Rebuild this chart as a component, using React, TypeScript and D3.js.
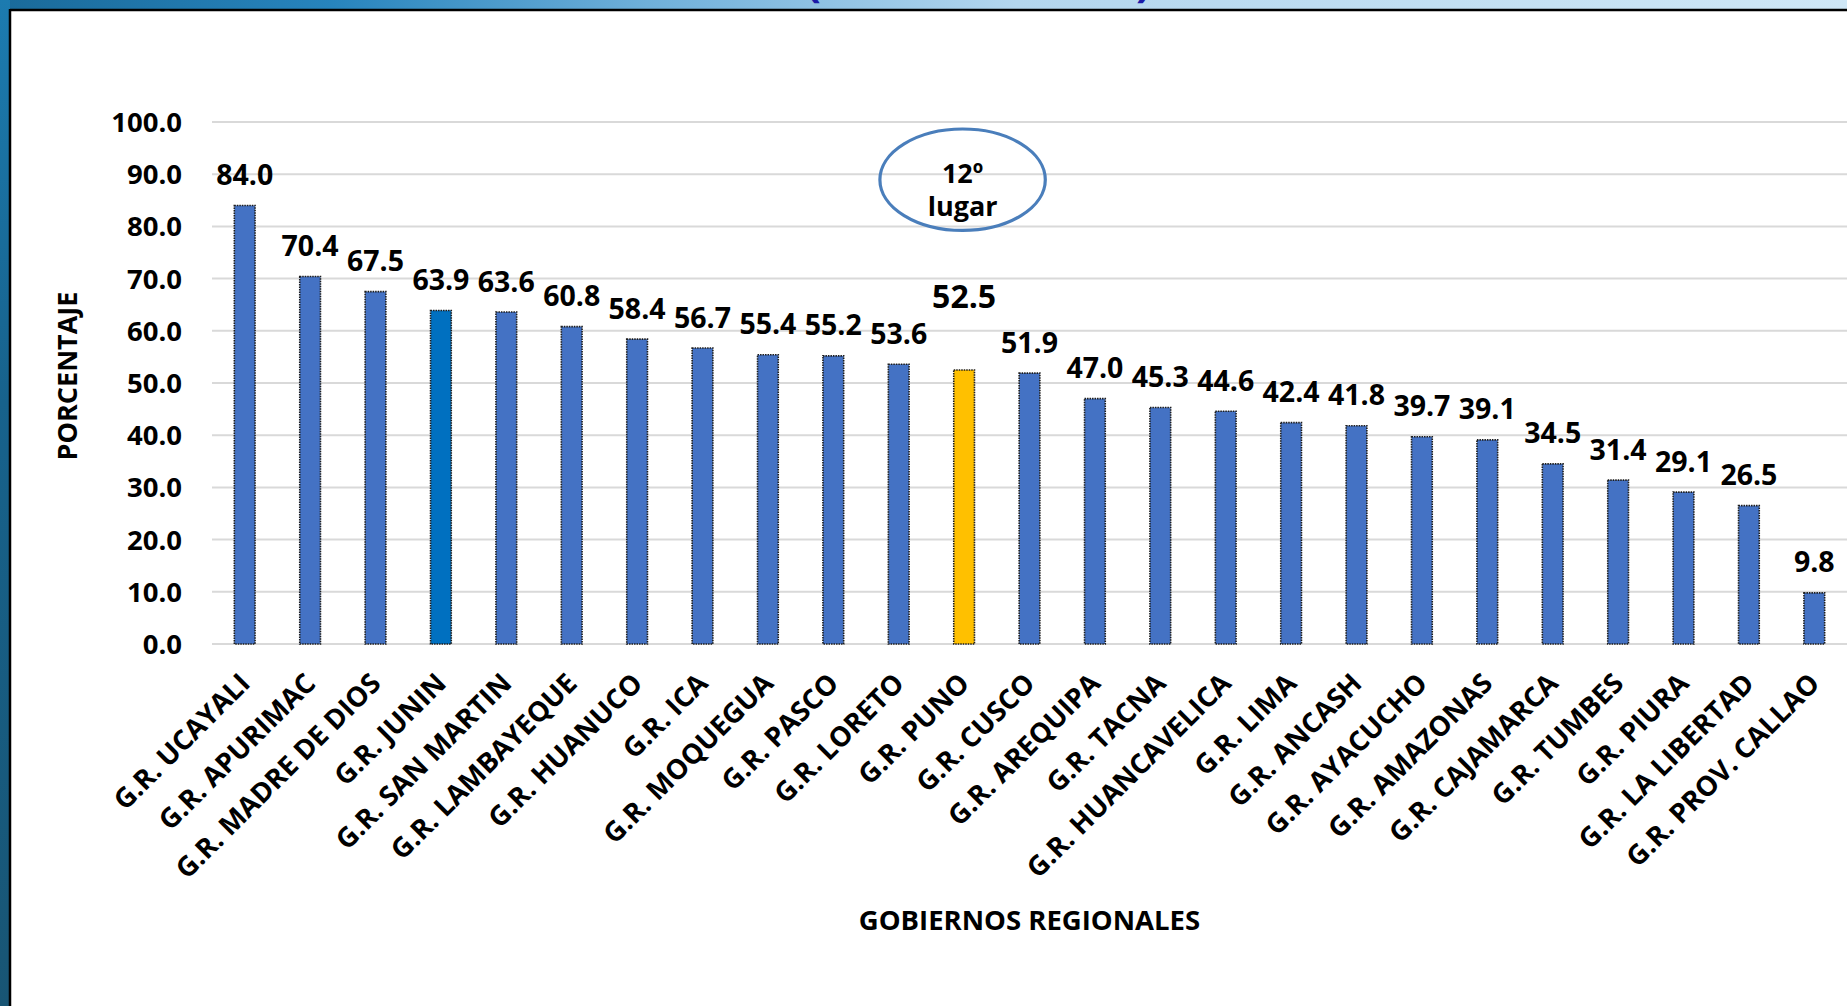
import React, { useRef, useLayoutEffect } from 'react'
import { select, scaleBand, scaleLinear } from 'd3'

const categories = [
  'G.R. UCAYALI', 'G.R. APURIMAC', 'G.R. MADRE DE DIOS', 'G.R. JUNIN', 'G.R. SAN MARTIN',
  'G.R. LAMBAYEQUE', 'G.R. HUANUCO', 'G.R. ICA', 'G.R. MOQUEGUA', 'G.R. PASCO',
  'G.R. LORETO', 'G.R. PUNO', 'G.R. CUSCO', 'G.R. AREQUIPA', 'G.R. TACNA',
  'G.R. HUANCAVELICA', 'G.R. LIMA', 'G.R. ANCASH', 'G.R. AYACUCHO', 'G.R. AMAZONAS',
  'G.R. CAJAMARCA', 'G.R. TUMBES', 'G.R. PIURA', 'G.R. LA LIBERTAD', 'G.R. PROV. CALLAO'
]
const values = [
  84.0, 70.4, 67.5, 63.9, 63.6, 60.8, 58.4, 56.7, 55.4, 55.2, 53.6, 52.5, 51.9,
  47.0, 45.3, 44.6, 42.4, 41.8, 39.7, 39.1, 34.5, 31.4, 29.1, 26.5, 9.8
]
const yTicks = [0, 10, 20, 30, 40, 50, 60, 70, 80, 90, 100]
const highlight = 'G.R. PUNO'
const junin = 'G.R. JUNIN'
const badgeLines = ['12º', 'lugar']

const W = 1847
const H = 1006
const FONT = "'Open Sans', 'DejaVu Sans', sans-serif"

export default function App () {
  const ref = useRef<SVGSVGElement>(null)

  useLayoutEffect(() => {
    if (ref.current === null) return
    const svg = select(ref.current)
    svg.selectAll('*').remove()

    const x = scaleBand<string>().domain(categories).range([212, W]).paddingInner(0.683).paddingOuter(0.3415)
    const y = scaleLinear().domain([0, 100]).range([644, 122])

    // background frame
    const defs = svg.append('defs')
    const gTop = defs.append('linearGradient').attr('id', 'topg').attr('x1', 0).attr('x2', 1).attr('y1', 0).attr('y2', 0)
    gTop.append('stop').attr('offset', 0).attr('stop-color', '#1a6a9a')
    gTop.append('stop').attr('offset', 0.18).attr('stop-color', '#2784bd')
    gTop.append('stop').attr('offset', 0.35).attr('stop-color', '#6fb0da')
    gTop.append('stop').attr('offset', 0.55).attr('stop-color', '#b3d6ee')
    gTop.append('stop').attr('offset', 1).attr('stop-color', '#cfe7f6')
    const gLeft = defs.append('linearGradient').attr('id', 'leftg').attr('x1', 0).attr('x2', 0).attr('y1', 0).attr('y2', 1)
    gLeft.append('stop').attr('offset', 0).attr('stop-color', '#1c7bb0')
    gLeft.append('stop').attr('offset', 0.4).attr('stop-color', '#17628c')
    gLeft.append('stop').attr('offset', 1).attr('stop-color', '#185574')

    svg.append('rect').attr('width', W).attr('height', H).attr('fill', '#ffffff')
    svg.append('rect').attr('width', W).attr('height', 10).attr('fill', 'url(#topg)')
    svg.append('rect').attr('width', 10).attr('height', H).attr('fill', 'url(#leftg)')
    svg.append('line').attr('x1', 10).attr('x2', W).attr('y1', 10).attr('y2', 10)
      .attr('stroke', '#000').attr('stroke-width', 2.5)
    svg.append('line').attr('x1', 10).attr('x2', 10).attr('y1', 9).attr('y2', H)
      .attr('stroke', '#000').attr('stroke-width', 2.5)

    // remnants of the slide title above the frame
    svg.append('text').attr('x', 806).attr('y', -4).attr('fill', '#1a1aa8')
      .attr('font-family', FONT).attr('font-weight', 700).attr('font-size', 44).text('(')
    svg.append('text').attr('x', 1136).attr('y', -4).attr('fill', '#1a1aa8')
      .attr('font-family', FONT).attr('font-weight', 700).attr('font-size', 44).text(')')

    // grid + y ticks
    const grid = svg.append('g')
    grid.selectAll('line').data(yTicks).enter().append('line')
      .attr('x1', 212).attr('x2', W)
      .attr('y1', d => y(d)).attr('y2', d => y(d))
      .attr('stroke', '#d9d9d9').attr('stroke-width', 2)
    svg.append('g').selectAll('text').data(yTicks).enter().append('text')
      .attr('x', 182).attr('y', d => y(d)).attr('dy', '0.36em')
      .attr('text-anchor', 'end')
      .attr('font-family', FONT).attr('font-weight', 700).attr('font-size', 27.5).attr('fill', '#000')
      .text(d => d.toFixed(1))

    // bars
    svg.append('g').selectAll('rect').data(values).enter().append('rect')
      .attr('x', (d, i) => x(categories[i]) as number)
      .attr('width', x.bandwidth())
      .attr('y', d => y(d))
      .attr('height', d => y(0) - y(d))
      .attr('fill', (d, i) => categories[i] === highlight ? '#FFC000' : categories[i] === junin ? '#0070C0' : '#4472C4')
      .attr('stroke', '#1e1e1e').attr('stroke-width', 1.6).attr('stroke-dasharray', '1.5 1')

    // value labels
    svg.append('g').selectAll('text').data(values).enter().append('text')
      .attr('x', (d, i) => (x(categories[i]) as number) + x.bandwidth() / 2)
      .attr('y', (d, i) => categories[i] === highlight ? 308 : y(d) - 20.5)
      .attr('text-anchor', 'middle')
      .attr('font-family', FONT).attr('font-weight', 700)
      .attr('font-size', (d, i) => categories[i] === highlight ? 32 : 28.5)
      .attr('fill', '#000')
      .text(d => d.toFixed(1))

    // category labels
    svg.append('g').selectAll('text').data(categories).enter().append('text')
      .attr('transform', d => `translate(${(x(d) as number) + x.bandwidth() / 2},678) rotate(-45)`)
      .attr('dy', '0.36em')
      .attr('text-anchor', 'end')
      .attr('font-family', FONT).attr('font-weight', 700).attr('font-size', 27.5).attr('fill', '#000')
      .text(d => d)

    // axis titles
    svg.append('text').attr('x', 1029.5).attr('y', 930).attr('text-anchor', 'middle')
      .attr('font-family', FONT).attr('font-weight', 700).attr('font-size', 27.5).attr('fill', '#000')
      .text('GOBIERNOS REGIONALES')
    svg.append('text').attr('transform', 'translate(67,376) rotate(-90)').attr('dy', '0.36em')
      .attr('text-anchor', 'middle')
      .attr('font-family', FONT).attr('font-weight', 700).attr('font-size', 27).attr('fill', '#000')
      .text('PORCENTAJE')

    // badge
    const px = (x(highlight) as number) + x.bandwidth() / 2
    svg.append('ellipse').attr('cx', px - 1.5).attr('cy', 179.7).attr('rx', 82.7).attr('ry', 50.7)
      .attr('fill', 'none').attr('stroke', '#4a7ebb').attr('stroke-width', 3.2)
    svg.append('g').selectAll('text').data(badgeLines).enter().append('text')
      .attr('x', px - 1.5).attr('y', (d, i) => i === 0 ? 183 : 216)
      .attr('text-anchor', 'middle')
      .attr('font-family', FONT).attr('font-weight', 700).attr('font-size', 27).attr('fill', '#000')
      .text(d => d)
  }, [])

  return (
    <svg ref={ref} width={W} height={H} style={{ position: 'absolute', left: 0, top: 0, display: 'block' }} />
  )
}
